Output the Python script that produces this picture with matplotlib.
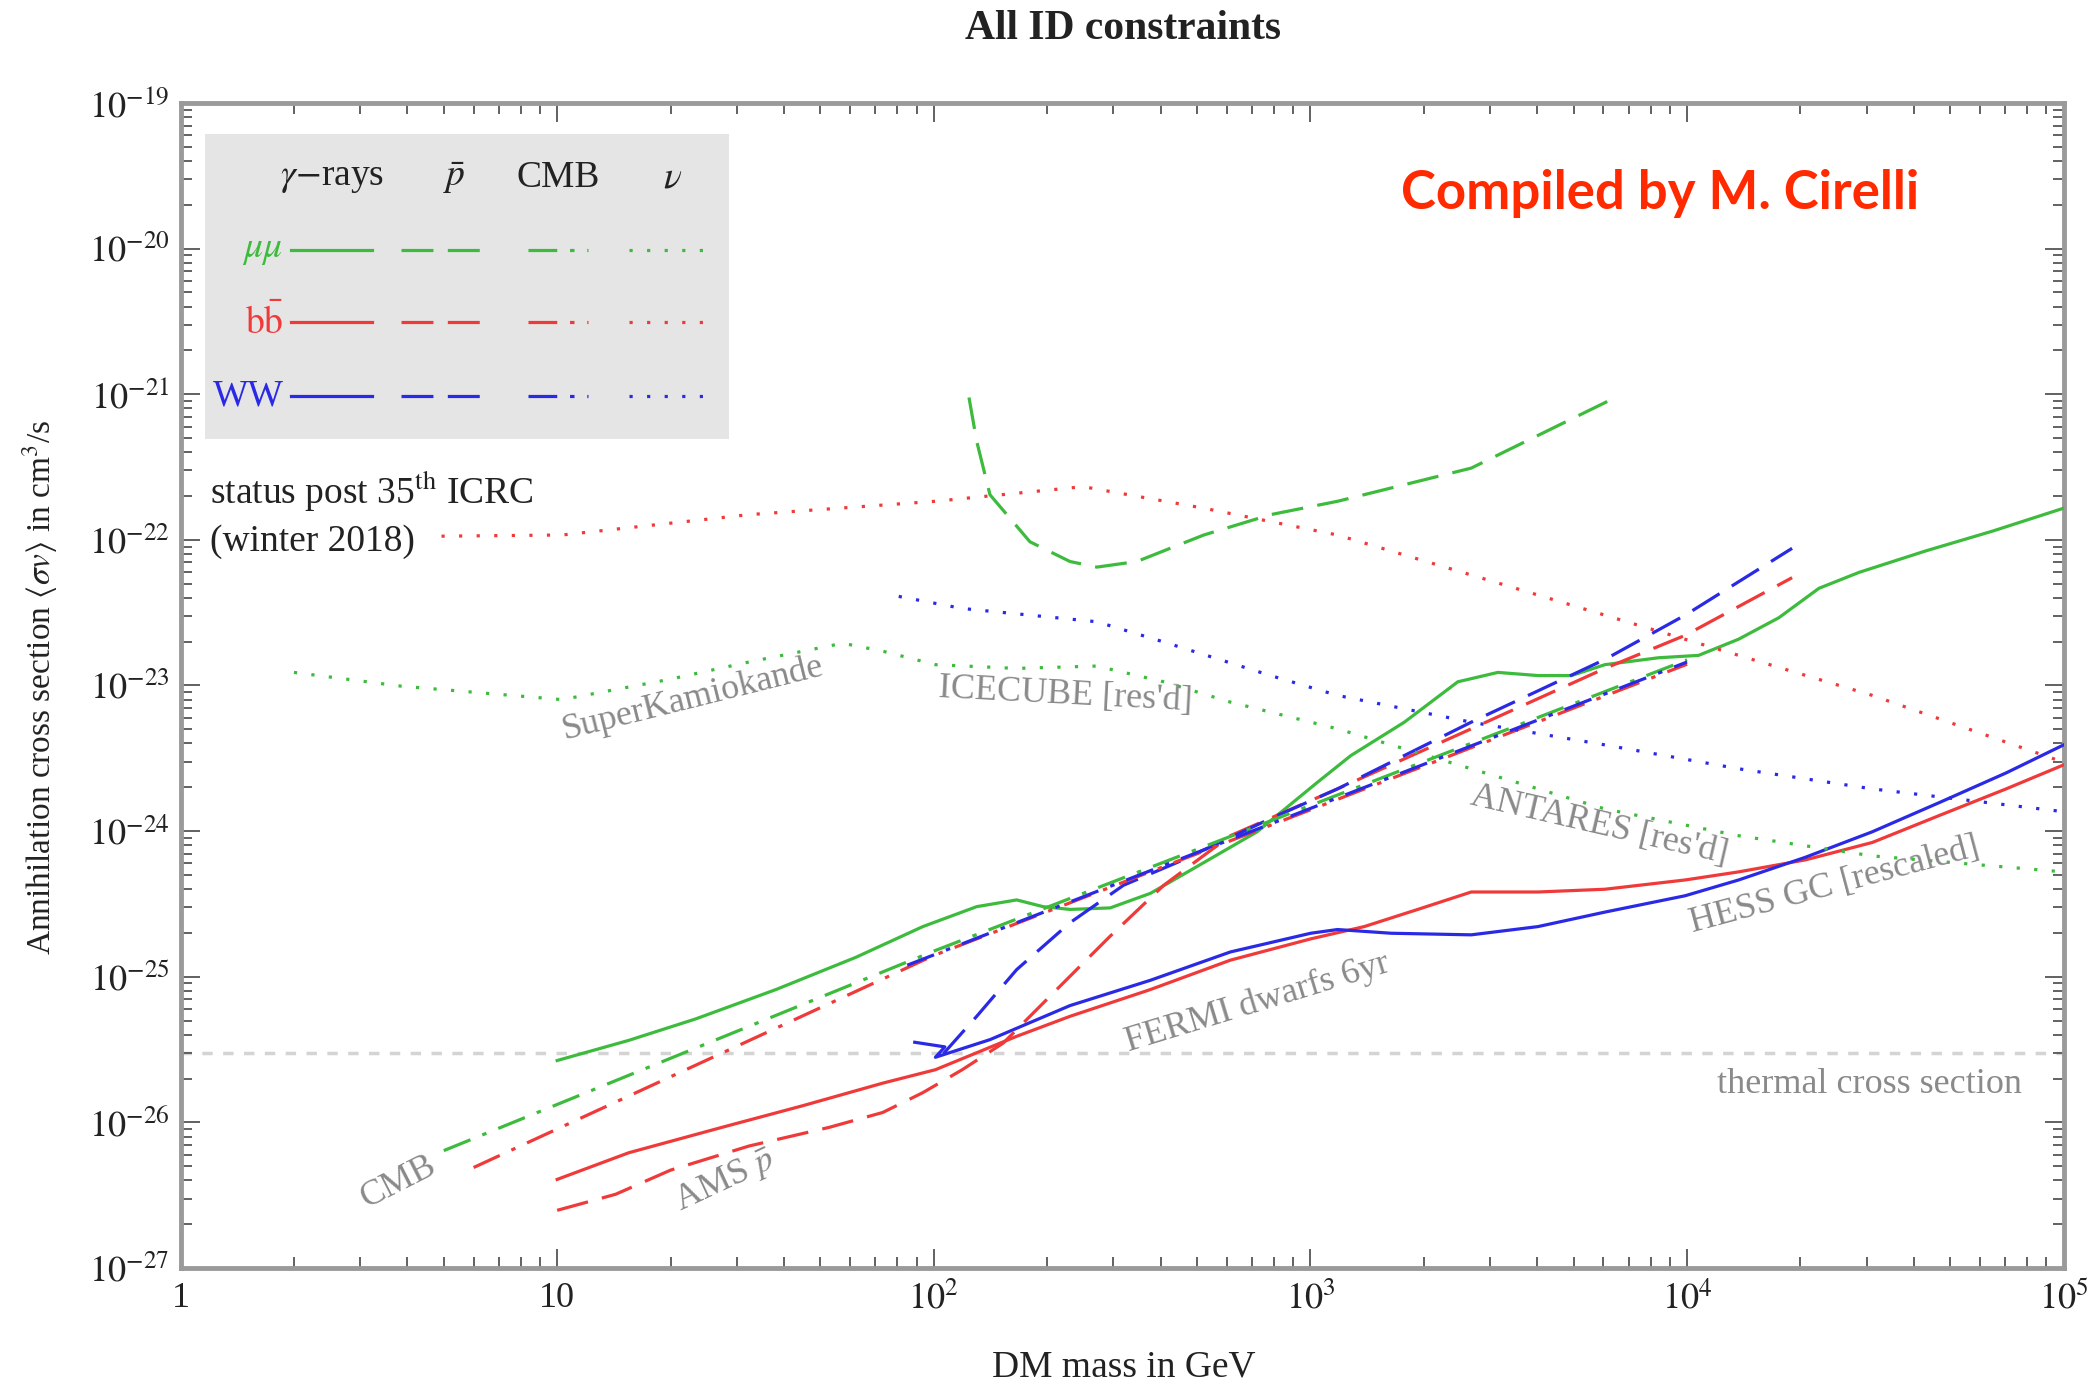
import matplotlib
matplotlib.use("Agg")
import matplotlib.pyplot as plt
from matplotlib.patches import Rectangle
from matplotlib.ticker import LogLocator, NullFormatter, FixedLocator, FixedFormatter

plt.rcParams['mathtext.fontset'] = 'stix'
plt.rcParams['font.family'] = ['Liberation Serif', 'DejaVu Serif']

# ---------------- data (DM mass in GeV, <sigma v> in cm^3/s) ----------------
# gamma rays (solid)
gam_mumu_m = [10, 15.5, 23.3, 38.1, 62.1, 93.5, 130, 166, 195, 230, 294, 376, 521, 722,
              1043, 1280, 1776, 2462, 3146, 4018, 4932, 6053, 8390, 10730, 13710, 17530,
              22400, 28620, 43050, 64860, 1e5]
gam_mumu_s = [2.66e-26, 3.66e-26, 5.13e-26, 8.17e-26, 1.36e-25, 2.21e-25, 3.03e-25, 3.37e-25,
              3.03e-25, 2.90e-25, 2.97e-25, 3.74e-25, 6.08e-25, 9.9e-25, 2.16e-24, 3.30e-24,
              5.6e-24, 1.06e-23, 1.23e-23, 1.17e-23, 1.17e-23, 1.39e-23, 1.55e-23, 1.61e-23,
              2.08e-23, 2.92e-23, 4.65e-23, 5.98e-23, 8.4e-23, 1.15e-22, 1.65e-22]

gam_bb_m = [10, 15.5, 27.4, 44.8, 73.2, 101, 166, 230, 376, 613, 1002, 1389, 1928, 2673,
            4018, 6053, 9885, 13710, 20640, 31050, 46740, 70340, 1e5]
gam_bb_s = [4.06e-27, 6.19e-27, 9.25e-27, 1.30e-26, 1.86e-26, 2.30e-26, 3.90e-26, 5.35e-26,
            8.17e-26, 1.30e-25, 1.82e-25, 2.21e-25, 2.90e-25, 3.82e-25, 3.82e-25, 3.99e-25,
            4.62e-25, 5.25e-25, 6.35e-25, 8.36e-25, 1.28e-24, 1.95e-24, 2.85e-24]

gam_ww_m = [89, 107, 101, 141, 230, 376, 613, 1002, 1180, 1637, 2673, 4018, 6053, 9885,
            13710, 20640, 31050, 46740, 70340, 1e5]
gam_ww_s = [3.55e-26, 3.3e-26, 2.8e-26, 3.7e-26, 6.34e-26, 9.46e-26, 1.48e-25, 1.99e-25,
            2.11e-25, 1.99e-25, 1.94e-25, 2.21e-25, 2.78e-25, 3.6e-25, 4.62e-25, 6.62e-25,
            9.9e-25, 1.57e-24, 2.51e-24, 3.91e-24]

# antiprotons (dashed)
pb_mumu_m = [124, 130, 141, 180, 230, 271, 346, 521, 784, 1180, 2673, 6457]
pb_mumu_s = [9.5e-22, 4.75e-22, 2.04e-22, 9.7e-23, 7.1e-23, 6.5e-23, 7.1e-23, 1.08e-22,
             1.49e-22, 1.84e-22, 3.11e-22, 9.5e-22]

pb_bb_m = [10, 14.3, 20, 32.3, 52.8, 73.2, 93.5, 119, 153, 212, 294, 408, 613, 1180, 2673,
           6053, 9885, 19010]
pb_bb_s = [2.49e-27, 3.21e-27, 4.70e-27, 6.88e-27, 9.25e-27, 1.17e-26, 1.60e-26, 2.30e-26,
           3.51e-26, 8.17e-26, 1.90e-25, 4.25e-25, 9.3e-25, 1.95e-24, 5.04e-24, 1.31e-23,
           2.21e-23, 5.5e-23]

pb_ww_m = [106, 130, 166, 230, 319, 442, 784, 1180, 2673, 6053, 9885, 19010]
pb_ww_s = [2.96e-26, 5.35e-26, 1.12e-25, 2.35e-25, 4.25e-25, 6.08e-25, 1.22e-24, 1.95e-24,
           5.6e-24, 1.51e-23, 3.04e-23, 8.75e-23]

# CMB (dash-dot)
cmb_mumu_m = [5, 100, 1e4]
cmb_mumu_s = [6.4e-27, 1.5e-25, 1.5e-23]
cmb_bb_m = [6, 100, 1e4]
cmb_bb_s = [4.9e-27, 1.4e-25, 1.4e-23]
cmb_ww_m = [85, 1e4]
cmb_ww_s = [1.2e-25, 1.45e-23]

# neutrinos (dotted)
nu_mumu_m = [2, 3.85, 10.3, 19.8, 32.3, 57.3, 73.2, 101, 166, 271, 408, 613, 1180, 2673,
             6053, 13710, 31050, 1e5]
nu_mumu_s = [1.23e-23, 9.9e-24, 8.0e-24, 1.10e-23, 1.45e-23, 1.95e-23, 1.72e-23, 1.39e-23,
             1.31e-23, 1.36e-23, 1.06e-23, 7.69e-24, 5.04e-24, 2.68e-24, 1.42e-24, 9.3e-25,
             6.76e-25, 5.25e-25]

nu_bb_m = [4.93, 10.3, 32.3, 101, 249, 521, 1180, 2673, 6053, 13710, 31050, 1e5]
nu_bb_s = [1.06e-22, 1.08e-22, 1.49e-22, 1.84e-22, 2.32e-22, 1.65e-22, 1.08e-22, 5.74e-23,
           3.04e-23, 1.61e-23, 8.55e-24, 2.97e-24]

nu_ww_m = [80.7, 119, 271, 408, 784, 1180, 2673, 6053, 13710, 31050, 1e5]
nu_ww_s = [4.09e-23, 3.38e-23, 2.74e-23, 1.99e-23, 1.17e-23, 8.55e-24, 5.6e-24, 3.91e-24,
           2.68e-24, 1.95e-24, 1.36e-24]

thermal_m = [1, 1e5]
thermal_s = [3e-26, 3e-26]

x_ticks = [1, 10, 1e2, 1e3, 1e4, 1e5]
x_ticklabels = ['1', '10', r'$10^2$', r'$10^3$', r'$10^4$', r'$10^5$']
y_ticks = [1e-27, 1e-26, 1e-25, 1e-24, 1e-23, 1e-22, 1e-21, 1e-20, 1e-19]
y_ticklabels = [r'$10^{-%d}$' % k for k in range(27, 18, -1)]

# ---------------- style ----------------
GREEN = '#3dbb3d'
RED = '#f03a3a'
BLUE = '#2a2ae6'
LW = 2.3
LS = {'solid': '-', 'dashed': (0, (10, 4.5)), 'dashdot': (0, (9, 4, 1.4, 4)),
      'dotted': (0, (1, 4.5))}
TXT = '#222222'

fig = plt.figure(figsize=(20.97, 13.84), dpi=100)
ax = fig.add_axes([0.0861, 0.0838, 0.898, 0.8418])
ax.set_xscale('log')
ax.set_yscale('log')
ax.set_xlim(1, 1e5)
ax.set_ylim(1e-27, 1e-19)

ax.plot(thermal_m, thermal_s, color='#d4d4d4', lw=2.5, ls=(0, (3, 3)), zorder=1)

series = [
    (gam_mumu_m, gam_mumu_s, GREEN, 'solid'), (gam_bb_m, gam_bb_s, RED, 'solid'),
    (gam_ww_m, gam_ww_s, BLUE, 'solid'),
    (pb_mumu_m, pb_mumu_s, GREEN, 'dashed'), (pb_bb_m, pb_bb_s, RED, 'dashed'),
    (pb_ww_m, pb_ww_s, BLUE, 'dashed'),
    (cmb_mumu_m, cmb_mumu_s, GREEN, 'dashdot'), (cmb_bb_m, cmb_bb_s, RED, 'dashdot'),
    (cmb_ww_m, cmb_ww_s, BLUE, 'dashdot'),
    (nu_mumu_m, nu_mumu_s, GREEN, 'dotted'), (nu_bb_m, nu_bb_s, RED, 'dotted'),
    (nu_ww_m, nu_ww_s, BLUE, 'dotted'),
]
for m, s, c, st in series:
    ax.plot(m, s, color=c, lw=LW, ls=LS[st], zorder=3)

# ticks
ax.xaxis.set_major_locator(FixedLocator(x_ticks))
ax.xaxis.set_major_formatter(FixedFormatter(x_ticklabels))
ax.yaxis.set_major_locator(FixedLocator(y_ticks))
ax.yaxis.set_major_formatter(FixedFormatter(y_ticklabels))
ax.xaxis.set_minor_locator(LogLocator(base=10, subs=range(2, 10), numticks=50))
ax.yaxis.set_minor_locator(LogLocator(base=10, subs=range(2, 10), numticks=50))
ax.xaxis.set_minor_formatter(NullFormatter())
ax.yaxis.set_minor_formatter(NullFormatter())
ax.tick_params(which='both', direction='in', top=True, right=True, color='#555555',
               labelsize=26, labelcolor=TXT, width=1.3)
ax.tick_params(which='major', length=14)
ax.tick_params(which='minor', length=8)
ax.tick_params(axis='x', pad=10)
ax.tick_params(axis='y', pad=8)
for sp in ax.spines.values():
    sp.set_color('#9a9a9a')
    sp.set_linewidth(3.5)

# labels
fig.text(0.5357, 0.9788, 'All ID constraints', ha='center', va='center', fontsize=30,
         fontweight='bold', color=TXT)
fig.text(0.5357, 0.0123, 'DM mass in GeV', ha='center', va='center', fontsize=27, color=TXT)
fig.text(0.019, 0.503, r'Annihilation cross section $\langle\sigma v\rangle$ in cm$^3$/s',
         ha='center', va='center', rotation=90, fontsize=24, color=TXT)

# curve annotations
GRAY = '#8a8a8a'
ann = [
    (22.9, 8.2e-24, 'SuperKamiokande', 14),
    (224, 8.55e-24, "ICECUBE [res'd]", -3),
    (5860, 1.1e-24, "ANTARES [res'd]", -13),
    (24700, 4.25e-25, 'HESS GC [rescaled]', 15),
    (722, 6.6e-26, 'FERMI dwarfs 6yr', 17),
    (30550, 1.82e-26, 'thermal cross section', 0),
    (3.79, 3.9e-27, 'CMB', 27),
    (27.9, 3.95e-27, r'AMS $\bar{p}$', 25),
]
for xm, ys, t, r in ann:
    ax.text(xm, ys, t, color=GRAY, fontsize=26, rotation=r, ha='center', va='center',
            rotation_mode='anchor', zorder=4)

# legend box
ax.add_patch(Rectangle((0.0128, 0.7118), 0.2782, 0.2618, transform=ax.transAxes,
                       facecolor='#e5e5e5', edgecolor='none', zorder=2))
hdr_y = 0.9357
for xc, t in [(0.0803, r'$\gamma$$-$rays'), (0.1456, r'$\bar{p}$'), (0.2003, 'CMB'),
              (0.2614, r'$\nu$')]:
    ax.text(xc, hdr_y, t, transform=ax.transAxes, ha='center', va='center', fontsize=27,
            color=TXT, zorder=5)
rows = [(0.8737, r'$\mu\mu$', GREEN), (0.8117, r'$\mathrm{b}\bar{\mathrm{b}}$', RED),
        (0.7486, 'WW', BLUE)]
segs = [((0.0589, 0.1016), 'solid'), ((0.1172, 0.1634), 'dashed'),
        ((0.1847, 0.2166), 'dashdot'), ((0.2379, 0.2784), 'dotted')]
for yy, lab, c in rows:
    ax.text(0.0547, yy, lab, transform=ax.transAxes, ha='right', va='center', fontsize=27,
            color=c, zorder=5)
    for (x0, x1), st in segs:
        ax.plot([x0, x1], [yy, yy], transform=ax.transAxes, color=c, lw=LW, ls=LS[st],
                zorder=5, clip_on=False)

ax.text(0.0156, 0.666, r'status post 35$^{\rm th}$ ICRC', transform=ax.transAxes,
        ha='left', va='center', fontsize=27, color=TXT)
ax.text(0.0156, 0.6234, '(winter 2018)', transform=ax.transAxes,
        ha='left', va='center', fontsize=27, color=TXT)

ax.text(0.7855, 0.922, 'Compiled by M. Cirelli', transform=ax.transAxes, ha='center',
        va='center', fontsize=38, color='#ff2a00', fontweight='bold',
        family=['Lato', 'DejaVu Sans'])

fig.savefig('out.png', dpi=100)
